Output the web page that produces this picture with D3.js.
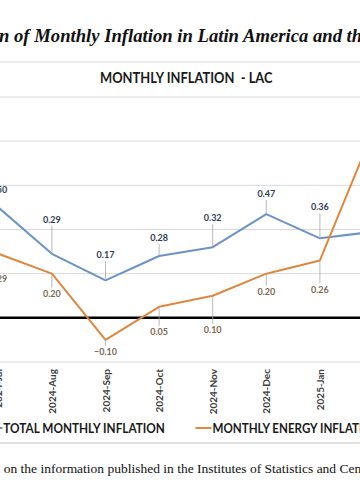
<!DOCTYPE html>
<html><head><meta charset="utf-8">
<script src="https://cdn.jsdelivr.net/npm/d3@7"></script>
<style>html,body{margin:0;padding:0;background:#fff;overflow:hidden}</style>
</head><body>
<svg id="c" width="360" height="504"></svg>
<script>
// ---- data ----
const months = ["2024-Jul","2024-Aug","2024-Sep","2024-Oct","2024-Nov","2024-Dec","2025-Jan","2025-Feb"];
const totalInflation = [0.50,0.29,0.17,0.28,0.32,0.47,0.36,0.39];
const energyInflation = [0.29,0.20,-0.10,0.05,0.10,0.20,0.26,0.85];
const yTicks = [-0.2,0,0.2,0.4,0.6,0.8,1.0];
const seriesNames = ["TOTAL MONTHLY INFLATION","MONTHLY ENERGY INFLATION"];
const titleText = "Evolution of Monthly Inflation in Latin America and the Caribbean";
const subtitleText = "MONTHLY INFLATION  - LAC";
const sourceText = "Source: Own elaboration based on the information published in the Institutes of Statistics and Census of each country.";
// ---- layout (label offsets in px, not data) ----
const totalLabelDy = [-18,-34,-25,-18,-29,-20,-31,-20];
const energyLabelDy = [25,20,12,25,34,18,29,20];

const BLUE = "#6b93c5", ORANGE = "#e0873f";
const svg = d3.select("#c");
svg.append("rect").attr("width",360).attr("height",504).attr("fill","#fff");

const x = d3.scalePoint().domain(months).range([-1.7, -1.7 + 53.6*7]);
const y = d3.scaleLinear().domain([-0.2, 1.0]).range([362, 97]);

function measure(str, font) {
  const t = svg.append("text").attr("style", font).text(str);
  const w = str.length ? t.node().getComputedTextLength() : 0;
  t.remove();
  return w;
}
// place text so that substring [a,b) spans x0..x1
function fitText(str, font, a, b, x0, x1, baseY, fill) {
  const wa = measure(str.slice(0,a), font), wb = measure(str.slice(0,b), font);
  const s = (x1 - x0) / (wb - wa);
  svg.append("text").attr("style", font).attr("fill", fill)
    .attr("transform", `translate(${x0 - s*wa},${baseY}) scale(${s},1)`)
    .text(str);
}

// title
const titleFont = "font-family:'Liberation Serif','Times New Roman',serif;font-weight:bold;font-style:italic;font-size:18px";
const ta = "Evolutio".length, tb = "Evolution of Monthly Inflation in Latin America and t".length;
fitText(titleText, titleFont, ta, tb, -1, 352, 41.7, "#111");

// separators
svg.append("line").attr("x1",0).attr("x2",360).attr("y1",62).attr("y2",62).attr("stroke","#d9d9d9").attr("stroke-width",1.2);
svg.append("line").attr("x1",0).attr("x2",360).attr("y1",443).attr("y2",443).attr("stroke","#d9d9d9").attr("stroke-width",1.5);

// subtitle
const subFont = "font-family:Lato,'Open Sans',sans-serif;font-weight:bold;font-size:14.5px;white-space:pre";
fitText(subtitleText, subFont, 0, subtitleText.length, 100, 272.7, 82.7, "#1a1a1a");

// gridlines
svg.append("g").selectAll("line").data(yTicks.filter(d => d !== 0)).join("line")
  .attr("x1",0).attr("x2",360).attr("y1",d=>y(d)).attr("y2",d=>y(d))
  .attr("stroke","#d9d9d9").attr("stroke-width",1);

// x axis labels
const xAxis = svg.append("g").attr("transform",`translate(0,${y(-0.2)})`)
  .call(d3.axisBottom(x).tickSize(0).tickPadding(0));
xAxis.select(".domain").remove();
xAxis.selectAll("text")
  .attr("style","font-family:Lato,sans-serif;font-weight:bold;font-size:10px")
  .attr("fill","#404040")
  .attr("text-anchor","end")
  .attr("transform","rotate(-90)")
  .attr("x",-7).attr("y",0).attr("dy","0.35em");

// zero line
svg.append("line").attr("x1",0).attr("x2",360).attr("y1",y(0)).attr("y2",y(0))
  .attr("stroke","#000").attr("stroke-width",2.5);

// lines
const line = d3.line().x((d,i)=>x(months[i])).y(d=>y(d));
svg.append("path").datum(totalInflation).attr("d",line).attr("fill","none")
  .attr("stroke",BLUE).attr("stroke-width",2).attr("stroke-linejoin","round");
svg.append("path").datum(energyInflation).attr("d",line).attr("fill","none")
  .attr("stroke",ORANGE).attr("stroke-width",2).attr("stroke-linejoin","round");

// data labels with leader lines
const labFont = "font-family:Lato,sans-serif;font-weight:bold;font-size:9px";
function labels(vals, dys, color, above) {
  const g = svg.append("g");
  vals.forEach((v,i) => {
    const px = x(months[i]), py = y(v), ly = py + dys[i];
    const edge = above ? ly + 6 : ly - 6;
    if (Math.abs(edge - py) > 2) {
      g.append("line").attr("x1",px).attr("x2",px).attr("y1",edge).attr("y2",py)
        .attr("stroke","#a6a6a6").attr("stroke-width",0.8);
    }
    g.append("text").attr("x",px).attr("y",ly).attr("dy","0.35em")
      .attr("text-anchor","middle").attr("style",labFont).attr("fill",color)
      .text(d3.format(".2f")(v));
  });
}
labels(totalInflation, totalLabelDy, "#2f3e55", true);
labels(energyInflation, energyLabelDy, "#7d6a55", false);

// legend
const legFont = "font-family:Lato,'Open Sans',sans-serif;font-weight:bold;font-size:14px";
svg.append("line").attr("x1",-14).attr("x2",2.5).attr("y1",428).attr("y2",428).attr("stroke",BLUE).attr("stroke-width",2);
fitText(seriesNames[0], legFont, 0, seriesNames[0].length, 3.3, 165, 433.3, "#1a1a1a");
svg.append("line").attr("x1",195.5).attr("x2",211.5).attr("y1",428).attr("y2",428).attr("stroke",ORANGE).attr("stroke-width",2);
fitText(seriesNames[1], legFont, 0, "MONTHLY ENERGY INFLA".length, 212.5, 353, 433.3, "#1a1a1a");

// source
const srcFont = "font-family:'Liberation Serif','Times New Roman',serif;font-size:12.5px";
const sa = sourceText.indexOf("on the information");
const sb = sourceText.indexOf("Census");
fitText(sourceText, srcFont, sa, sb, 0.5, 336.7, 473, "#111");
</script>
</body></html>
